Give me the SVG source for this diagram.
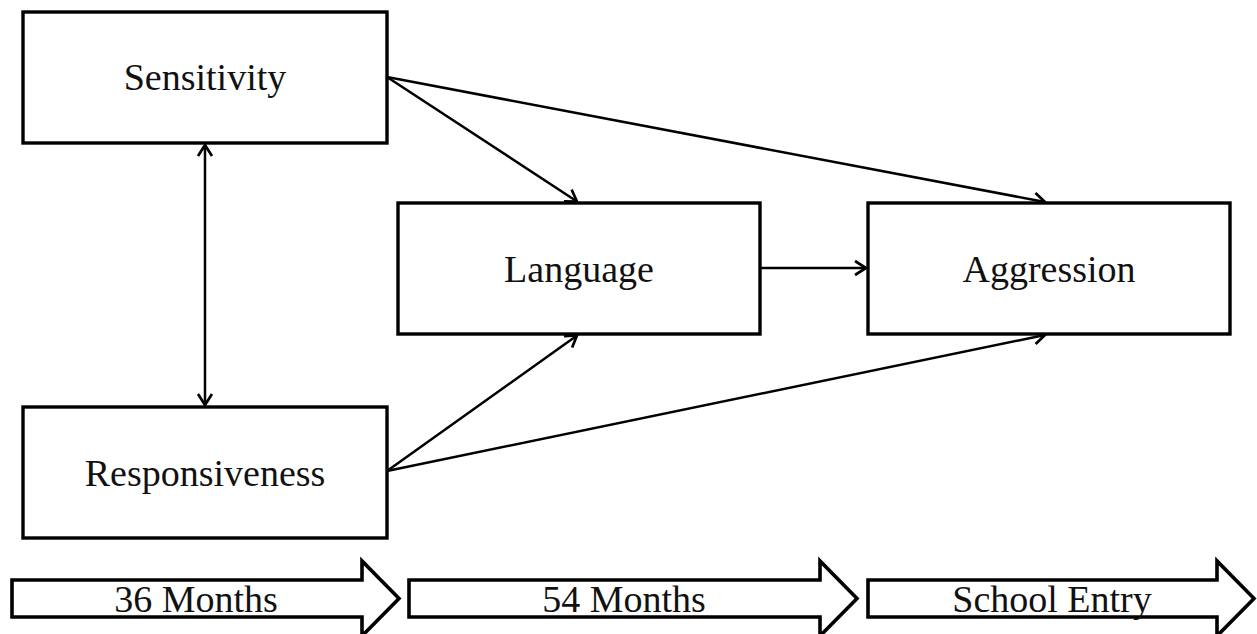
<svg xmlns="http://www.w3.org/2000/svg" width="1257" height="634" viewBox="0 0 1257 634">
<style>
.box{fill:#fff;stroke:#000;stroke-width:3.4}
.lbl{font-family:"Liberation Serif","DejaVu Serif",serif;font-size:38px;fill:#111;text-anchor:middle}
.tl{font-family:"Liberation Serif","DejaVu Serif",serif;font-size:38px;fill:#111;text-anchor:middle}
.edge{fill:none;stroke:#000;stroke-width:2.5;marker-end:url(#ah)}
.blk{fill:#fff;stroke:#000;stroke-width:3.6;stroke-linejoin:miter}
</style>
<defs>
<marker id="ah" markerUnits="userSpaceOnUse" markerWidth="20" markerHeight="20" refX="0" refY="0" viewBox="-14 -10 16 20" orient="auto-start-reverse" overflow="visible">
<path d="M-11,-7 L0,0 L-11,7" fill="none" stroke="#000" stroke-width="2.7" stroke-linejoin="miter"/>
</marker>
</defs>
<rect width="1257" height="634" fill="#fff"/>
<g id="connectors">
<line class="edge" x1="387" y1="77" x2="577" y2="201.5"/>
<line class="edge" x1="387" y1="77" x2="1045" y2="202"/>
<line class="edge" x1="760" y1="268" x2="866" y2="268"/>
<line class="edge" x1="387" y1="471" x2="577" y2="335.5"/>
<line class="edge" x1="387" y1="471" x2="1045" y2="335"/>
<line class="edge" x1="205" y1="145" x2="205" y2="405" marker-start="url(#ah)"/>
</g>
<g id="sensitivity">
<rect class="box" x="23" y="12" width="364" height="131"/>
<text class="lbl" x="205" y="90">Sensitivity</text>
</g>
<g id="responsiveness">
<rect class="box" x="23" y="407" width="364" height="131"/>
<text class="lbl" x="205" y="486">Responsiveness</text>
</g>
<g id="language">
<rect class="box" x="398" y="203" width="362" height="131"/>
<text class="lbl" x="579" y="282">Language</text>
</g>
<g id="aggression">
<rect class="box" x="868" y="203" width="362" height="131"/>
<text class="lbl" x="1049" y="282">Aggression</text>
</g>
<g id="timeline">
<g id="t36">
<polygon class="blk" points="12,580 362,580 362,561 399,598.5 362,636 362,617 12,617"/>
<text class="tl" x="196" y="612">36 Months</text>
</g>
<g id="t54">
<polygon class="blk" points="409,580 820,580 820,561 857,598.5 820,636 820,617 409,617"/>
<text class="tl" x="624" y="612">54 Months</text>
</g>
<g id="tschool">
<polygon class="blk" points="868,580 1217,580 1217,561 1254,598.5 1217,636 1217,617 868,617"/>
<text class="tl" x="1052" y="612">School Entry</text>
</g>
</g>
</svg>
